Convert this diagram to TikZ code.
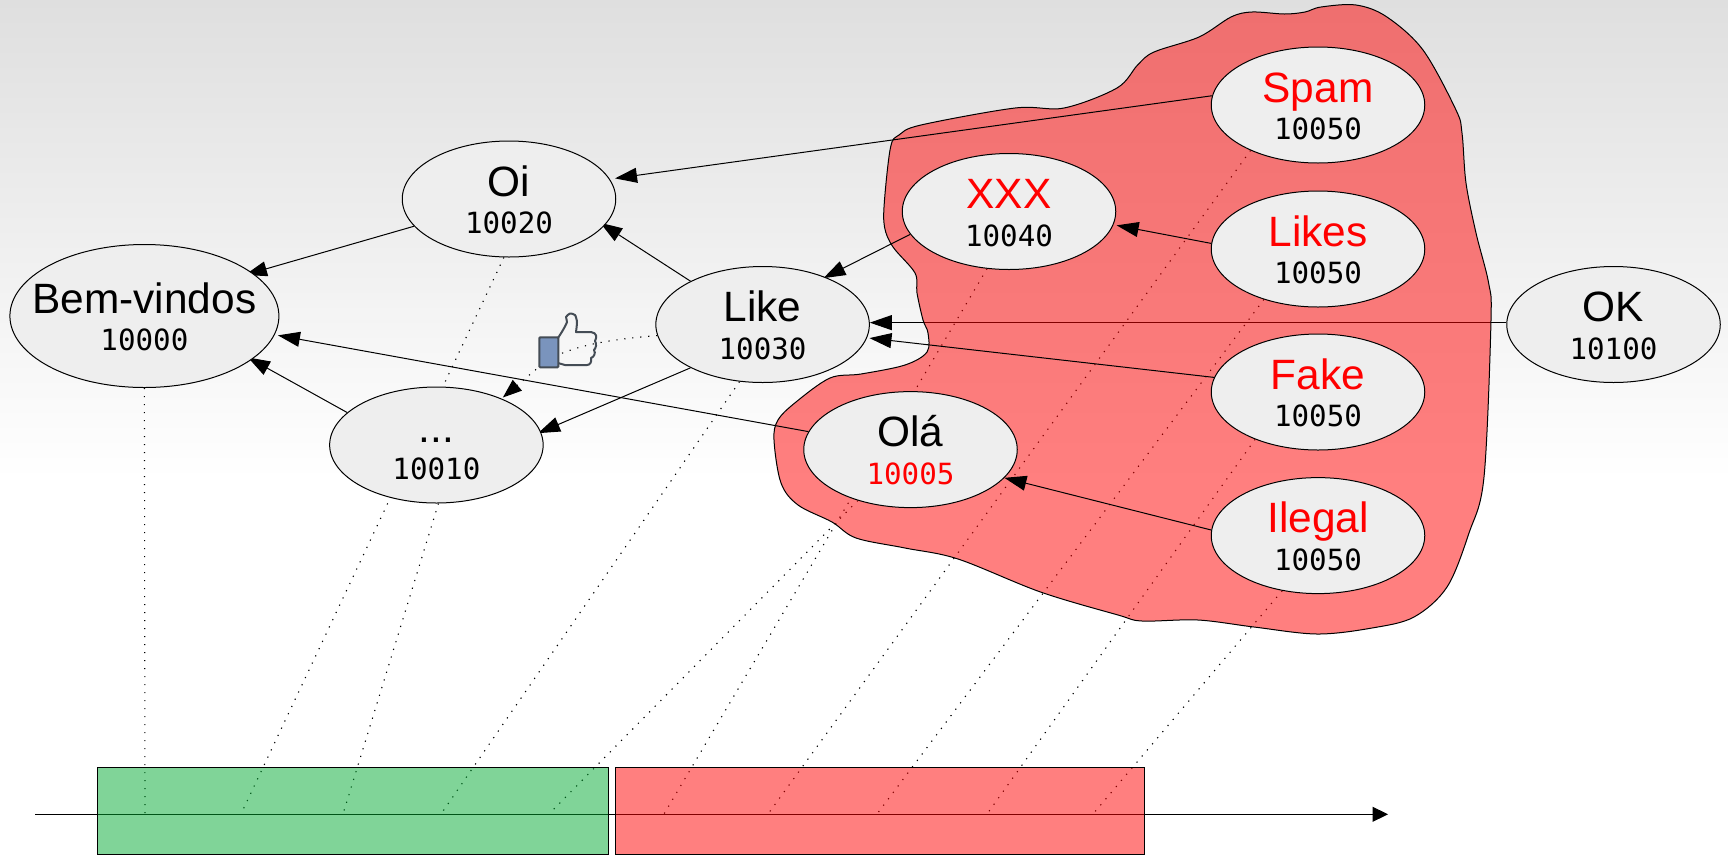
\documentclass[tikz,border=0pt]{standalone}
\usepackage{fontspec}
\setmainfont{Liberation Sans}
\newfontfamily\monof{DejaVu Sans Mono}
\usetikzlibrary{shapes.geometric,arrows.meta}
\pgfdeclarelayer{backlayer}
\pgfdeclarelayer{midlayer}
\pgfdeclarelayer{arrowlayer}
\pgfsetlayers{backlayer,midlayer,arrowlayer,main}
\definecolor{bgtop}{RGB}{223,223,223}
\definecolor{nodefill}{RGB}{238,238,238}
\definecolor{grn}{RGB}{1,169,49}
\definecolor{thumbblue}{RGB}{122,148,189}
\definecolor{thumbline}{RGB}{68,76,85}
\pgfdeclareverticalshading{bgshade}{100bp}{color(0bp)=(white); color(25bp)=(white); color(75bp)=(bgtop); color(100bp)=(bgtop)}
\newcommand{\twol}[4]{\makebox[0pt]{\raisebox{3pt}[0pt][0pt]{\fontsize{42.4}{42}\selectfont\color{#2}#1}}\makebox[0pt]{\raisebox{-34.5pt}[0pt][0pt]{\monof\fontsize{29.2}{29}\selectfont\color{#4}#3}}}
\tikzset{
  msg/.style={ellipse,draw=black,line width=1pt,fill=nodefill,minimum width=213.5pt,minimum height=116pt,inner sep=0pt},
  bigmsg/.style={msg,minimum width=269pt,minimum height=143pt},
  link/.style={line width=1pt,-{Triangle[length=22pt,width=15pt]}},
  guide/.style={line width=1.1pt,dash pattern=on 1.2pt off 6.8pt},
  band/.style={rectangle,draw=black,line width=1pt,fill opacity=.5,inner sep=0pt,anchor=north west},
}
\begin{document}
\begin{tikzpicture}[x=1pt,y=-1pt]
\useasboundingbox (0,0) rectangle (1728,855);
% nodes
\node[bigmsg] (bem) at (144.4,316) {\twol{Bem-vindos}{black}{10000}{black}};
\node[msg] (oi) at (509,199) {\twol{Oi}{black}{10020}{black}};
\node[msg] (like) at (762.6,324.5) {\twol{Like}{black}{10030}{black}};
\node[msg] (dots) at (436.4,445) {\twol{...}{black}{10010}{black}};
\node[msg] (ola) at (910.5,449.6) {\twol{Olá}{black}{10005}{red}};
\node[msg] (xxx) at (1009,211.5) {\twol{XXX}{red}{10040}{black}};
\node[msg] (spam) at (1318,105) {\twol{Spam}{red}{10050}{black}};
\node[msg] (likes) at (1318,249) {\twol{Likes}{red}{10050}{black}};
\node[msg] (fake) at (1318,392) {\twol{Fake}{red}{10050}{black}};
\node[msg] (ilegal) at (1318,535.6) {\twol{Ilegal}{red}{10050}{black}};
\node[msg] (ok) at (1613.5,324.5) {\twol{OK}{black}{10100}{black}};
% axis points
\coordinate (axs) at (35,814.3);
\coordinate (axe) at (1388,814.3);
\coordinate (t1) at (145,814);
\coordinate (t2) at (241,814);
\coordinate (t3) at (343,814);
\coordinate (t4) at (441,814);
\coordinate (t5) at (549,814);
\coordinate (t6) at (664,814);
\coordinate (t7) at (768,814);
\coordinate (t8) at (877,814);
\coordinate (t9) at (987,814);
\coordinate (t10) at (1093,814);
\begin{pgfonlayer}{backlayer}
  \shade[shading=bgshade] (0,0) rectangle (1728,480);
  \draw[guide] (bem.south) -- (t1);
  \draw[guide] (oi.265.6) -- (t2);
  \draw[guide] (dots.272) -- (t3);
  \draw[guide] (like.248.4) -- (t4);
  \draw[guide] (ola.224) -- (t5);
  \draw[guide] (xxx.249.3) -- (t6);
  \draw[guide] (spam.214.6) -- (t7);
  \draw[guide] (likes.223.5) -- (t8);
  \draw[guide] (fake.217) -- (t9);
  \draw[guide] (ilegal.237.3) -- (t10);
  \draw[link] (ok.179.2) -- (like.0.8 |- ok.179.2);
  \draw[line width=1pt,-{Triangle[length=15.5pt,width=15pt]}] (axs) -- (axe);
\end{pgfonlayer}
\begin{pgfonlayer}{midlayer}
  \draw[line width=1pt,fill=red,fill opacity=.5] plot[smooth cycle,tension=.55] coordinates {
    (1321,7) (1356,5) (1386.5,16.7) (1423,50) (1456,110) (1462,133) (1466,183) (1476,233) (1488.6,283) (1491,320)
    (1484,477) (1469,533) (1447,587) (1414,617) (1372,628) (1317,634) (1254,627) (1198,620) (1142,621) (1118,615)
    (1040.5,592) (958,559) (905,548) (856,538) (832,522) (798,505) (781,483) (774,440) (778,420) (796,402)
    (830,378) (861,374) (905,365) (927,352) (928,333) (923,320) (917,293) (915,273) (893,247) (884.5,227)
    (884.5,200) (890.6,147) (899,135) (921,125) (1015,108) (1064,108) (1117,88) (1137.6,65) (1154,52) (1199,37)
    (1231,17) (1252,12) (1284.5,14) (1305,12)};
  \node[band,fill=grn,minimum width=511pt,minimum height=87pt] (gband) at (96.5,767) {};
  \node[band,fill=red,minimum width=529pt,minimum height=87pt] (rband) at (614.5,767) {};
\end{pgfonlayer}
\begin{pgfonlayer}{arrowlayer}
  \draw[link] (spam.175.5) -- ([shift={(5,-1)}]oi.11);
  \draw[link] (oi.196.5) -- ([shift={(-9,1)}]bem.21);
  \draw[link] (like.149.7) -- ([shift={(-5,-2)}]oi.-15.5);
  \draw[link] (xxx.193.6) -- ([shift={(-2,1)}]like.37);
  \draw[link] (likes.177.6) -- ([shift={(3,1)}]xxx.-7);
  \draw[link] (fake.172) -- ([shift={(3,-1)}]like.-8);
  \draw[link] (ilegal.177) -- ([shift={(-1,1)}]ola.-16);
  \draw[link] (ola.170) -- ([shift={(3,1)}]bem.-8.4);
  \draw[link] (dots.160) -- ([shift={(-4,-2)}]bem.-22);
  \draw[link] (like.211.7) -- ([shift={(-3,1)}]dots.7);
  \draw[guide,-{Triangle[length=19pt,width=14pt]}] (like.186.7) .. controls (615,339) and (565,345) .. (540,366) -- ([shift={(-1,-2)}]dots.34.4);
  % thumb icon
  \draw[line width=2pt,thumbline,line join=round] plot[smooth,tension=.4] coordinates {
    (558,338) (563,330) (567,322) (566,317) (570,313.5) (575,315) (577,322) (576,332)}
    -- (591,332) .. controls (597,333) and (597,337) .. (595,341)
    .. controls (597,344) and (596,348) .. (594,350)
    .. controls (596,353) and (594,357) .. (591,358)
    .. controls (592,362) and (590,365) .. (587,365) -- (565,365) -- (558,363);
  \draw[line width=2pt,thumbline,fill=thumbblue,rounded corners=1pt] (539.3,337.3) rectangle (558.3,367.3);
\end{pgfonlayer}
\end{tikzpicture}
\end{document}
